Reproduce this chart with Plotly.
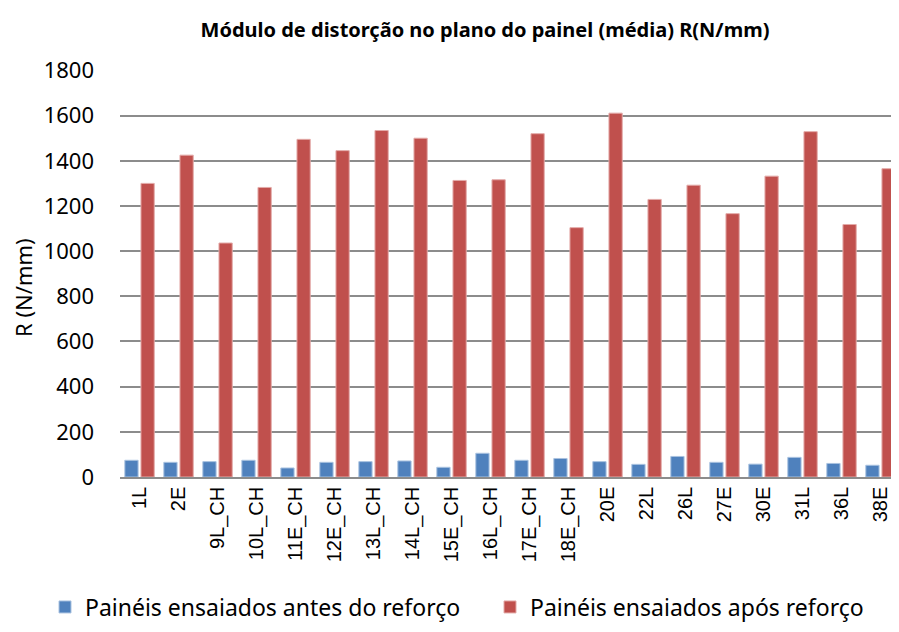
import plotly.graph_objects as go

paineis = ["1L", "2E", "9L_CH", "10L_CH", "11E_CH", "12E_CH", "13L_CH", "14L_CH",
           "15E_CH", "16L_CH", "17E_CH", "18E_CH", "20E", "22L", "26L", "27E",
           "30E", "31L", "36L", "38E"]
antes = [74, 65, 68, 74, 40, 65, 68, 71, 43, 105, 74, 82, 68, 56, 91, 65, 57, 87, 60, 52]
apos = [1300, 1425, 1036, 1282, 1495, 1445, 1534, 1500, 1313, 1316, 1520, 1104,
        1611, 1229, 1292, 1166, 1332, 1529, 1118, 1365]

# page body has an 8px margin; keep the figure inside the window so nothing scrolls
W, H = 883, 616
fig = go.Figure()
fig.add_trace(go.Bar(x=paineis, y=antes, name="Painéis ensaiados antes do reforço",
                     marker=dict(color="#4F81BD", line=dict(color="#A9C2E0", width=1)),
                     width=0.34, offset=-0.376, legend="legend"))
fig.add_trace(go.Bar(x=paineis, y=apos, name="Painéis ensaiados após reforço",
                     marker=dict(color="#C0504D", line=dict(color="#E3AAA8", width=1)),
                     width=0.34, offset=0.038, legend="legend2"))

leg = dict(orientation="h", xref="container", yref="container", xanchor="left",
           y=1 - 599 / H, yanchor="middle", font=dict(size=23), itemwidth=30)
fig.update_layout(
    width=W, height=H,
    barmode="overlay",
    plot_bgcolor="white", paper_bgcolor="white",
    margin=dict(l=112, r=0, t=62, b=147, autoexpand=False),
    font=dict(family="Noto Sans", color="black"),
    title=dict(text="<b>Módulo de distorção no plano do painel (média) R(N/mm)</b>",
               x=477 / W, xanchor="center", y=1 - 22 / H, yanchor="middle",
               font=dict(size=20)),
    showlegend=True,
    legend=dict(leg, x=37 / W),
    legend2=dict(leg, x=482 / W),
)
fig.update_yaxes(range=[0, 1802], tickvals=list(range(0, 1801, 200)), showgrid=True,
                 gridcolor="#8C8C8C", gridwidth=1.5, zeroline=False, showline=False,
                 tickfont=dict(size=22), ticks="", ticklabelstandoff=25, automargin=False)
fig.update_xaxes(range=[-0.5, 19.27], tickangle=-90, showline=True, linecolor="#8C8C8C",
                 linewidth=1.5, ticks="", automargin=False,
                 tickfont=dict(family="Liberation Sans", size=20))
fig.add_annotation(text="R (N/mm)", textangle=-90, xref="paper", yref="paper",
                   x=(15 - 112) / 771, y=(469 - 280) / 407, showarrow=False,
                   xanchor="center", yanchor="middle", font=dict(size=22))

fig.write_html("out.html")
